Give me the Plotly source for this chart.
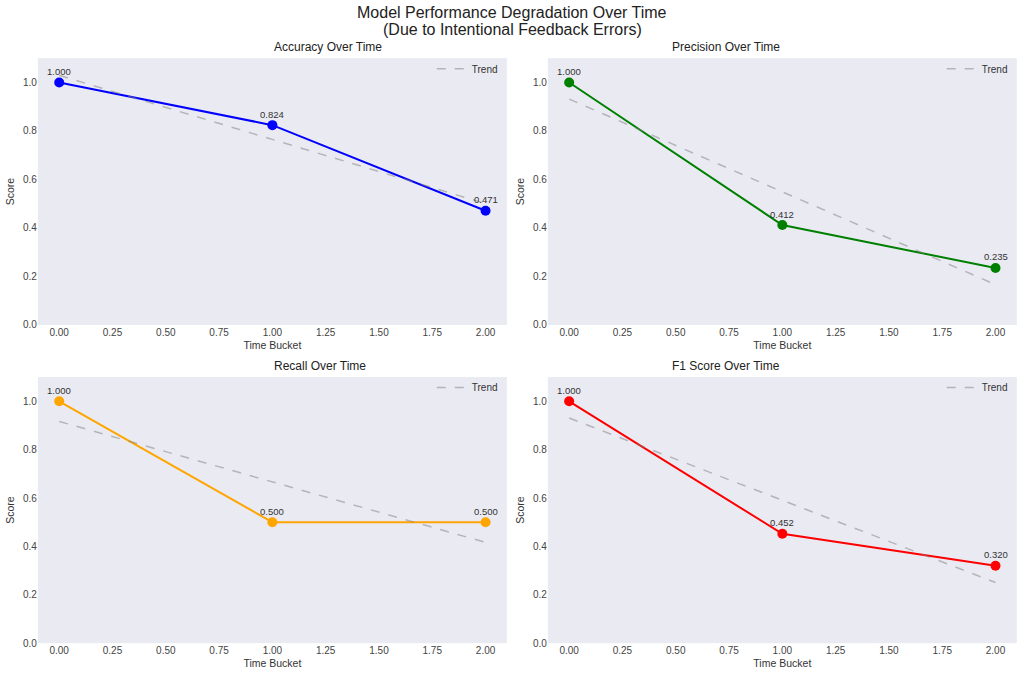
import numpy as np
import plotly.graph_objects as go

time_buckets = [0, 1, 2]
metric_names = ["Accuracy", "Precision", "Recall", "F1 Score"]
accuracy = [1.000, 0.824, 0.471]
precision = [1.000, 0.412, 0.235]
recall = [1.000, 0.500, 0.500]
f1_score = [1.000, 0.452, 0.320]
colors = ["blue", "green", "orange", "red"]
x_ticks = [0, 0.25, 0.5, 0.75, 1.0, 1.25, 1.5, 1.75, 2.0]
y_ticks = [0, 0.2, 0.4, 0.6, 0.8, 1.0]
title_lines = ["Model Performance Degradation Over Time", "(Due to Intentional Feedback Errors)"]

series = [accuracy, precision, recall, f1_score]

# subplot domains (paper coords)
xdoms = [[0.037, 0.495], [0.535, 0.993], [0.037, 0.495], [0.535, 0.993]]
ydoms = [[0.520, 0.914], [0.520, 0.914], [0.050, 0.443], [0.050, 0.443]]

fig = go.Figure()
font_family = "Liberation Sans, Arial, sans-serif"
annotations = []
layout_axes = {}

for i, (name, vals, col) in enumerate(zip(metric_names, series, colors)):
    n = i + 1
    xa = "x" if n == 1 else f"x{n}"
    ya = "y" if n == 1 else f"y{n}"
    leg = "legend" if n == 1 else f"legend{n}"
    coef = np.polyfit(time_buckets, vals, 1)
    trend = np.polyval(coef, time_buckets)
    fig.add_trace(go.Scatter(
        x=time_buckets, y=vals, mode="lines+markers",
        line=dict(color=col, width=2), marker=dict(color=col, size=10),
        xaxis=xa, yaxis=ya, showlegend=False, hoverinfo="skip"))
    fig.add_trace(go.Scatter(
        x=time_buckets, y=trend, mode="lines", name="Trend",
        line=dict(color="rgba(128,128,128,0.5)", width=1.5, dash="dash"),
        xaxis=xa, yaxis=ya, legend=leg, showlegend=True))
    for xv, yv in zip(time_buckets, vals):
        annotations.append(dict(
            x=xv, y=yv, xref=xa, yref=ya, text=f"{yv:.3f}", showarrow=False,
            yshift=11, font=dict(size=9.5, color="#333333", family=font_family)))
    # subplot title
    annotations.append(dict(
        x=(xdoms[i][0] + xdoms[i][1]) / 2, y=ydoms[i][1], xref="paper", yref="paper",
        yanchor="bottom", yshift=2, text=f"{name} Over Time", showarrow=False,
        font=dict(size=12, color="#222222", family=font_family)))
    axkey = "" if n == 1 else str(n)
    layout_axes[f"xaxis{axkey}"] = dict(
        domain=xdoms[i], anchor=ya, range=[-0.1, 2.1], tickvals=x_ticks,
        ticktext=[f"{t:.2f}" for t in x_ticks], showgrid=False, zeroline=False,
        showline=False, ticks="", automargin=False,
        tickfont=dict(size=10, color="#444444", family=font_family),
        title=dict(text="Time Bucket", standoff=4,
                   font=dict(size=10.5, color="#333333", family=font_family)))
    layout_axes[f"yaxis{axkey}"] = dict(
        domain=ydoms[i], anchor=xa, range=[0, 1.1], tickvals=y_ticks,
        ticktext=[f"{t:.1f}" for t in y_ticks], showgrid=False, zeroline=False,
        showline=False, ticks="", automargin=False,
        tickfont=dict(size=10, color="#444444", family=font_family),
        title=dict(text="Score", standoff=6,
                   font=dict(size=10.5, color="#333333", family=font_family)))
    layout_axes[leg] = dict(
        x=xdoms[i][1] - 0.004, y=ydoms[i][1] + 0.006, xanchor="right", yanchor="top",
        bgcolor="rgba(0,0,0,0)", font=dict(size=10, color="#333333", family=font_family),
        itemwidth=30)

for line, ypx in zip(title_lines, [12, 29]):
    annotations.append(dict(
        x=0.5, y=1 - ypx / 677, xref="paper", yref="paper", xanchor="center",
        yanchor="middle", showarrow=False, text=line,
        font=dict(size=16, color="#222222", family=font_family)))

fig.update_layout(
    width=1024, height=677,
    margin=dict(l=0, r=0, t=0, b=0),
    paper_bgcolor="white", plot_bgcolor="#EAEAF2",
    annotations=annotations,
    **layout_axes)

fig.write_html("out.html", config={"displayModeBar": False},
               post_script="document.body.style.margin='0';")
